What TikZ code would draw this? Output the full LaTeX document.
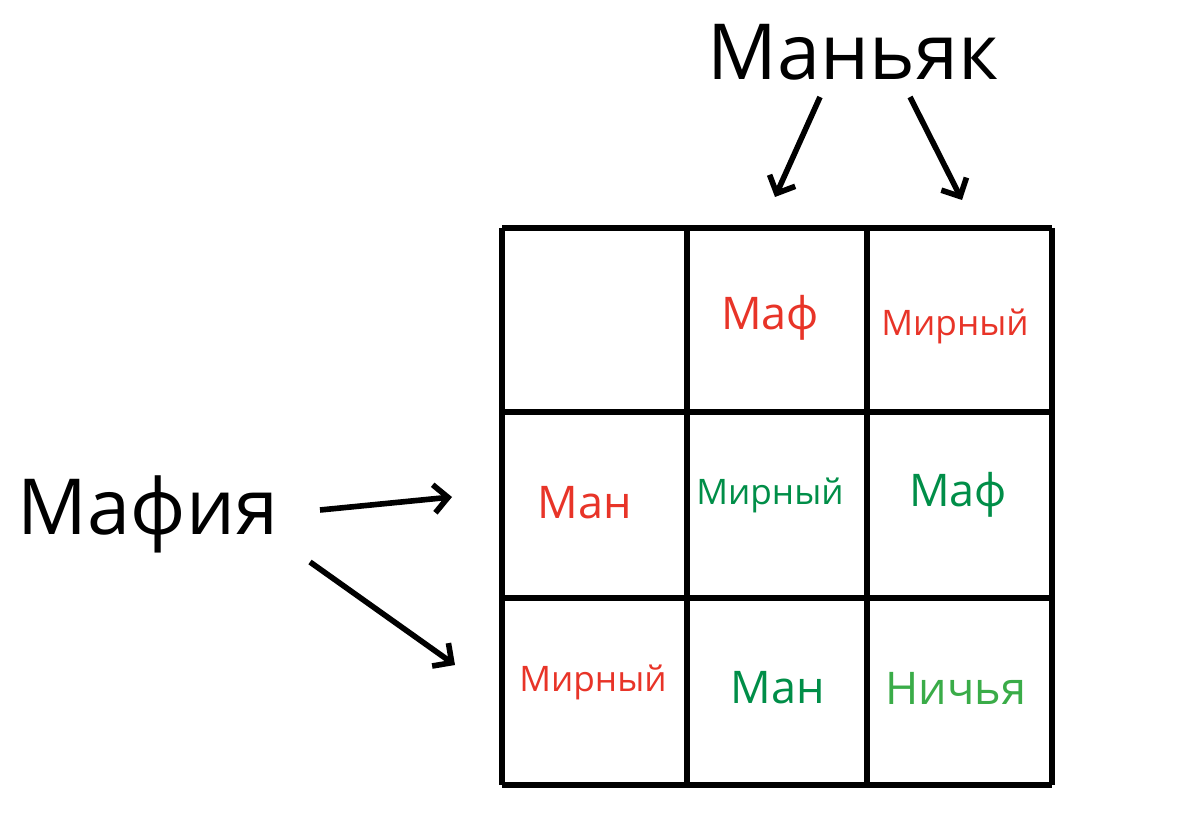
\documentclass[tikz,border=0pt]{standalone}
\usepackage{fontspec}
\setmainfont{Open Sans}
\usetikzlibrary{arrows.meta}
\definecolor{rd}{RGB}{232,52,40}
\definecolor{gn}{RGB}{0,142,72}
\definecolor{lg}{RGB}{58,172,72}
\begin{document}
\begin{tikzpicture}[x=0.025cm,y=-0.025cm,
  gridline/.style={line width=4.8pt},
  arr/.style={line width=4pt,-{Straight Barb[length=10pt,width=20pt,line width=4pt]}},
  big/.style={font=\fontsize{55}{62}\selectfont},
  cbig/.style={font=\fontsize{32}{36}\selectfont},
  csmall/.style={font=\fontsize{25}{30}\selectfont}]
\useasboundingbox (0,0) rectangle (1200,819);
\fill[white] (0,0) rectangle (1200,819);
\foreach \x in {502,687,867,1052} \draw[gridline] (\x,228) -- (\x,785);
\foreach \y in {228,412,598,785} \draw[gridline] (502,\y) -- (1052,\y);
\node[big] (man) at (853,52) {Маньяк};
\node[big] (maf) at (148,514) {Мафия};
\node[cbig,text=rd] (c12) at (770,318) {Маф};
\node[csmall,text=rd] (c13) at (955,326) {Мирный};
\node[cbig,text=rd] (c21) at (585,503) {Ман};
\node[csmall,text=gn] (c22) at (770,495) {Мирный};
\node[cbig,text=gn] (c23) at (958,495) {Маф};
\node[csmall,text=rd] (c31) at (593,682) {Мирный};
\node[cbig,text=gn] (c32) at (778,688) {Ман};
\node[cbig,text=lg] (c33) at (956,688) {Ничья};
\coordinate (a1s) at (820,97); \coordinate (a1e) at (775,197);
\coordinate (a2s) at (910,97); \coordinate (a2e) at (962,200);
\coordinate (b1s) at (320,510); \coordinate (b1e) at (452,497);
\coordinate (b2s) at (310,562); \coordinate (b2e) at (455,665);
\draw[arr] (a1s) -- (a1e);
\draw[arr] (a2s) -- (a2e);
\draw[arr] (b1s) -- (b1e);
\draw[arr] (b2s) -- (b2e);
\end{tikzpicture}
\end{document}
